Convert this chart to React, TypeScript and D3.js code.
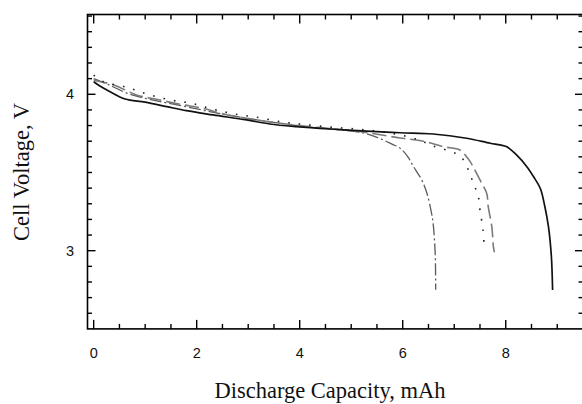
import React from "react";
import * as d3 from "d3";

// discharge curves (capacity mAh, voltage V)
const solidCap = [0, 0.12, 0.3, 0.61, 1.0, 1.42, 1.8, 2.32, 2.97, 3.42, 3.94, 4.59, 5.3, 5.95, 6.59, 7.24, 7.7, 7.89, 8.02, 8.21, 8.41, 8.54, 8.67, 8.76, 8.83, 8.86, 8.89, 8.91];
const solidVolt = [4.08, 4.053, 4.02, 3.97, 3.95, 3.921, 3.895, 3.868, 3.836, 3.81, 3.793, 3.778, 3.765, 3.754, 3.746, 3.719, 3.687, 3.676, 3.665, 3.612, 3.537, 3.473, 3.399, 3.281, 3.153, 3.068, 2.94, 2.749];

const dottedCap = [0, 0.19, 0.64, 1.03, 1.48, 1.9, 2.32, 2.74, 3.17, 3.62, 4.0, 4.6, 5.2, 5.8, 6.3, 6.59, 7.02, 7.18, 7.31, 7.4, 7.47, 7.5, 7.56, 7.58];
const dottedVolt = [4.123, 4.08, 4.045, 4.002, 3.964, 3.942, 3.904, 3.874, 3.853, 3.825, 3.81, 3.79, 3.775, 3.75, 3.71, 3.669, 3.623, 3.58, 3.484, 3.409, 3.345, 3.26, 3.132, 3.03];

const dashCap = [0, 0.39, 0.83, 1.22, 1.68, 2.13, 2.52, 2.97, 3.5, 4.0, 4.6, 5.2, 5.95, 6.4, 6.79, 7.11, 7.24, 7.31, 7.5, 7.63, 7.66, 7.73, 7.76, 7.78];
const dashVolt = [4.09, 4.06, 3.996, 3.968, 3.936, 3.91, 3.874, 3.847, 3.82, 3.8, 3.78, 3.76, 3.72, 3.7, 3.665, 3.644, 3.601, 3.569, 3.452, 3.367, 3.281, 3.153, 3.026, 2.99];

const dashDotCap = [0, 0.3, 0.7, 1.2, 1.8, 2.4, 3.0, 3.6, 4.2, 4.7, 5.2, 5.5, 5.8, 5.95, 6.1, 6.21, 6.37, 6.47, 6.56, 6.59, 6.63, 6.64];
const dashDotVolt = [4.1, 4.06, 4.0, 3.96, 3.92, 3.88, 3.845, 3.815, 3.79, 3.775, 3.755, 3.725, 3.68, 3.655, 3.6, 3.537, 3.452, 3.367, 3.239, 3.175, 2.983, 2.75];

const xTickLabels = [0, 2, 4, 6, 8];
const yTickLabels = [3, 4];

const W = 582;
const H = 404;
const frame = { left: 87.5, right: 583, top: 14.5, bottom: 328.9 };

const tickFont = "'Liberation Sans', Arial, sans-serif";
const titleFont = "'Liberation Serif', 'Times New Roman', serif";

export default function App() {
  const x = d3.scaleLinear().domain([-0.12, 9.5]).range([frame.left, frame.right]);
  const y = d3.scaleLinear().domain([2.5, 4.51]).range([frame.bottom, frame.top]);

  const line = d3
    .line<[number, number]>()
    .x((d) => x(d[0]))
    .y((d) => y(d[1]))
    .curve(d3.curveCatmullRom.alpha(0.5));

  const pts = (cap: number[], volt: number[]) =>
    cap.map((c, i) => [c, volt[i]] as [number, number]);

  // tick positions: half units on x, tenths on y
  const xMinor = d3.range(0, 9.51, 0.5);
  const yMinor = d3.range(2.6, 4.51, 0.1).map((v) => Math.round(v * 10) / 10);

  const series = [
    { d: pts(dashDotCap, dashDotVolt), color: "#5a5a5a", w: 1.3, dash: "12 3 2 3" },
    { d: pts(dashCap, dashVolt), color: "#7a7a7a", w: 1.6, dash: "14 5" },
    { d: pts(dottedCap, dottedVolt), color: "#222", w: 1.6, dash: "1.6 9" },
    { d: pts(solidCap, solidVolt), color: "#111", w: 1.7, dash: undefined },
  ];

  return (
    <svg
      width={W}
      height={H}
      style={{ position: "absolute", left: 0, top: 0, background: "#fff" }}
    >
      {series.map((s, i) => (
        <path
          key={i}
          d={line(s.d) || ""}
          fill="none"
          stroke={s.color}
          strokeWidth={s.w}
          strokeDasharray={s.dash}
        />
      ))}

      {/* frame */}
      <rect
        x={frame.left}
        y={frame.top}
        width={frame.right - frame.left}
        height={frame.bottom - frame.top}
        fill="none"
        stroke="#000"
        strokeWidth={1.6}
      />

      {/* x ticks, bottom and top, pointing inward */}
      {xMinor.map((v) => {
        const major = Math.abs(v - Math.round(v / 2) * 2) < 1e-6;
        const len = major ? 9 : 5;
        return (
          <g key={"x" + v} stroke="#000" strokeWidth={1.4}>
            <line x1={x(v)} x2={x(v)} y1={frame.bottom} y2={frame.bottom - len} />
            <line x1={x(v)} x2={x(v)} y1={frame.top} y2={frame.top + len} />
          </g>
        );
      })}

      {/* y ticks, left and right */}
      {yMinor.map((v) => {
        const major = Math.abs(v - Math.round(v)) < 1e-6;
        const len = major ? 8 : 4.5;
        return (
          <g key={"y" + v} stroke="#000" strokeWidth={1.4}>
            <line x1={frame.left} x2={frame.left + len} y1={y(v)} y2={y(v)} />
            <line x1={frame.right} x2={frame.right - len} y1={y(v)} y2={y(v)} />
          </g>
        );
      })}

      {xTickLabels.map((v) => (
        <text
          key={"xl" + v}
          x={x(v)}
          y={357.5}
          textAnchor="middle"
          fontFamily={tickFont}
          fontSize={14.5}
          fill="#111"
        >
          {v}
        </text>
      ))}

      {yTickLabels.map((v) => (
        <text
          key={"yl" + v}
          x={70}
          y={y(v) + 5}
          textAnchor="middle"
          fontFamily={tickFont}
          fontSize={14.5}
          fill="#111"
        >
          {v}
        </text>
      ))}

      <text
        x={330}
        y={398}
        textAnchor="middle"
        fontFamily={titleFont}
        fontSize={22.5}
        fill="#111"
      >
        Discharge Capacity, mAh
      </text>

      <text
        transform={`translate(29,172) rotate(-90)`}
        textAnchor="middle"
        fontFamily={titleFont}
        fontSize={22.5}
        fill="#111"
      >
        Cell Voltage, V
      </text>
    </svg>
  );
}
